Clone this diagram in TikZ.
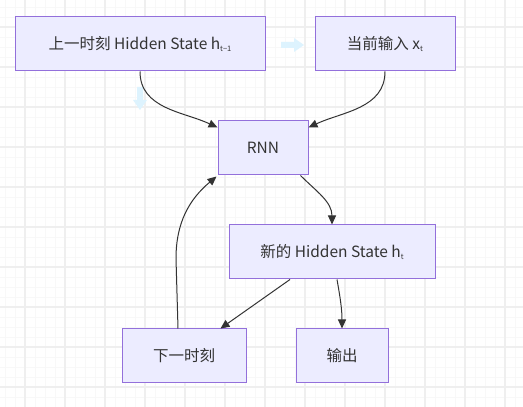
\documentclass[tikz,border=0pt]{standalone}
\usepackage{fontspec}
\setmainfont{Noto Sans CJK SC}
\usetikzlibrary{arrows.meta}
\definecolor{boxfill}{HTML}{ECECFF}
\definecolor{boxline}{HTML}{9370DB}
\definecolor{inkgray}{HTML}{333333}
\definecolor{gridmajor}{HTML}{EFEFEF}
\definecolor{gridminor}{HTML}{F8F8F8}
\definecolor{hintblue}{HTML}{DDF3FE}
\newcommand{\lowsub}[1]{\raisebox{-0.35ex}{\fontsize{7.5}{8}\selectfont #1}}
\tikzset{
	stagebox/.style={draw=boxline, fill=boxfill, line width=1pt, minimum height=54pt,
		text=inkgray, font=\fontsize{15.5}{18}\selectfont, inner sep=0pt},
	flow/.style={draw=inkgray, line width=1pt, -{Triangle[length=9pt,width=8pt]}}
}
\begin{document}
\begin{tikzpicture}[x=1pt,y=1pt]
			\useasboundingbox (0,0) rectangle (523,407);
			\fill[white] (0,0) rectangle (523,407);
			% background grid
			\foreach \gx in {5,15,...,515}
				\draw[gridminor, line width=0.8pt] (\gx,0) -- (\gx,407);
			\foreach \gy in {0,10,...,400}
				\draw[gridminor, line width=0.8pt] (0,\gy) -- (523,\gy);
			\foreach \gx in {25,65,...,505}
				\draw[gridmajor, line width=1.6pt] (\gx,0) -- (\gx,407);
			\foreach \gy in {20,60,...,380}
				\draw[gridmajor, line width=1.6pt] (0,\gy) -- (523,\gy);
			% faint hint arrows
			\fill[hintblue] (281,359) -- (294,359) -- (294,355) -- (304,362) -- (294,369) -- (294,365) -- (281,365) -- cycle;
			\fill[hintblue] (137,320) -- (137,307) -- (133,307) -- (140,297) -- (147,307) -- (143,307) -- (143,320) -- cycle;

			\node[stagebox, minimum width=250pt] (prev) at(140, 363){上一时刻 Hidden State h\lowsub{t−1}};
			\node[stagebox, minimum width=140pt] (cur) at(385, 363){当前输入 x\lowsub{t}};
			\node[stagebox, minimum width=90pt] (rnn) at(263, 259){RNN};
			\node[stagebox, minimum width=206pt] (newh) at(332, 155){新的 Hidden State h\lowsub{t}};
			\node[stagebox, minimum width=124pt] (next) at(184, 51){下一时刻};
			\node[stagebox, minimum width=92pt] (out) at(342, 51){输出};

			\draw[flow] (prev.south) to[out=-90, in=155] ([yshift=-7]rnn.north west);
			\draw[flow] (cur.south) to[out=-90, in=25] ([yshift=-7]rnn.north east);
			\draw[flow] ([xshift=-8]rnn.south east) to[out=-45, in=90] (newh.north);
			\draw[flow] ([xshift=-42]newh.south) -- ([xshift=-26]next.north east);
			\draw[flow] ([xshift=5]newh.south) to[out=-80, in=90] (out.north);
			\draw[flow] ([xshift=-6]next.north) -- ++(-2,70) to[out=90, in=220] ([shift={(-1,-1)}]rnn.south west);
\end{tikzpicture}
\end{document}
